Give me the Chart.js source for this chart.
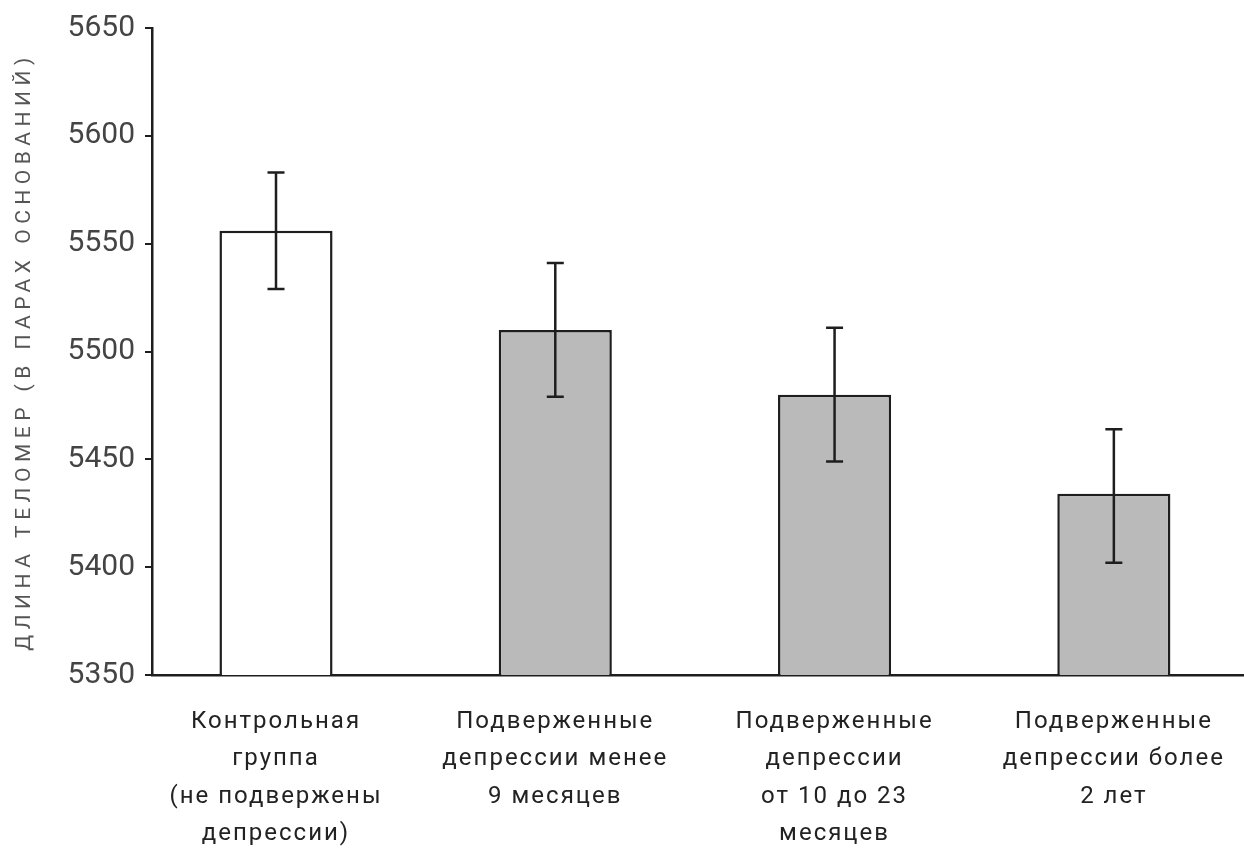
<!DOCTYPE html>
<html>
<head>
<meta charset="utf-8">
<script src="https://cdn.jsdelivr.net/npm/chart.js@4.4.1/dist/chart.umd.min.js"></script>
<style>
  html, body { margin: 0; padding: 0; background: #fff; }
  #wrap { width: 1244px; height: 849px; }
</style>
</head>
<body>
<div id="wrap"><canvas id="c" width="1244" height="849"></canvas></div>
<script>
const categories = [
  ["Контрольная", "группа", "(не подвержены", "депрессии)"],
  ["Подверженные", "депрессии менее", "9 месяцев"],
  ["Подверженные", "депрессии", "от 10 до 23", "месяцев"],
  ["Подверженные", "депрессии более", "2 лет"]
];
const means = [5556, 5510, 5480, 5434];
const errLow = [5529, 5479, 5449, 5402];
const errHigh = [5583, 5541, 5511, 5464];
const barColors = ["#ffffff", "#bababa", "#bababa", "#bababa"];
const yTicks = [5350, 5400, 5450, 5500, 5550, 5600, 5650];
const yTitle = "ДЛИНА ТЕЛОМЕР (В ПАРАХ ОСНОВАНИЙ)";

const spacingPlugin = {
  id: 'spacing',
  afterLayout(chart) {
    const xs = chart.scales.x, ys = chart.scales.y;
    if (!xs._sp) {
      const orig = xs.drawLabels.bind(xs);
      xs.drawLabels = function (area) {
        const c = this.ctx; c.save(); c.letterSpacing = '2px'; orig(area); c.restore();
      };
      xs._sp = true;
    }
    if (!ys._sp) {
      const orig = ys.drawTitle.bind(ys);
      ys.drawTitle = function () {
        const c = this.ctx; c.save(); c.letterSpacing = '5.5px'; orig(); c.restore();
      };
      ys._sp = true;
    }
  }
};

const errorBarPlugin = {
  id: 'errorBars',
  afterDatasetsDraw(chart) {
    const ctx = chart.ctx, xs = chart.scales.x, ys = chart.scales.y;
    ctx.save();
    ctx.strokeStyle = '#1e1e1e';
    ctx.lineWidth = 2.5;
    ctx.lineCap = 'butt';
    for (let i = 0; i < means.length; i++) {
      const x = xs.getPixelForValue(i);
      const y1 = ys.getPixelForValue(errLow[i]);
      const y2 = ys.getPixelForValue(errHigh[i]);
      const cap = 8.5;
      ctx.beginPath();
      ctx.moveTo(x, y1); ctx.lineTo(x, y2);
      ctx.moveTo(x - cap, y1); ctx.lineTo(x + cap, y1);
      ctx.moveTo(x - cap, y2); ctx.lineTo(x + cap, y2);
      ctx.stroke();
    }
    ctx.restore();
  }
};

new Chart(document.getElementById('c'), {
  type: 'bar',
  data: {
    datasets: [{
      data: means.map((v, i) => ({ x: i, y: v })),
      backgroundColor: barColors,
      borderColor: '#1e1e1e',
      borderWidth: 2.5,
      borderSkipped: 'start',
      barPercentage: 0.405,
      categoryPercentage: 1.0
    }]
  },
  plugins: [spacingPlugin, errorBarPlugin],
  options: {
    responsive: false,
    animation: false,
    events: [],
    layout: { padding: { top: 28, right: 0, bottom: 0, left: 0 } },
    plugins: { legend: { display: false }, tooltip: { enabled: false } },
    scales: {
      x: {
        type: 'linear',
        offset: false,
        min: -0.444,
        max: 3.466,
        afterBuildTicks: (s) => { s.ticks = [0, 1, 2, 3].map(v => ({ value: v })); },
        afterFit: (s) => { s.height = 174; },
        grid: { display: false, drawTicks: false },
        border: { display: true, color: '#1e1e1e', width: 2.5 },
        ticks: {
          callback: (v) => categories[v],
          color: '#222',
          font: { family: 'Roboto', size: 24, lineHeight: 1.56 },
          padding: 28,
          maxRotation: 0,
          autoSkip: false
        }
      },
      y: {
        min: 5350,
        max: 5650,
        afterBuildTicks: (s) => { s.ticks = yTicks.map(v => ({ value: v })); },
        afterFit: (s) => { s.width = 152; },
        grid: { drawOnChartArea: false, drawTicks: true, tickLength: 7, color: '#1e1e1e', lineWidth: 2 },
        border: { display: true, color: '#1e1e1e', width: 2.5 },
        ticks: {
          callback: (v) => String(v),
          color: '#444',
          font: { family: 'Roboto', size: 30 },
          padding: 10
        },
        title: {
          display: true,
          text: yTitle,
          color: '#555',
          font: { family: 'Roboto', size: 21, lineHeight: 1.2 },
          padding: { top: 12, bottom: 28 }
        }
      }
    }
  }
});
</script>
</body>
</html>
